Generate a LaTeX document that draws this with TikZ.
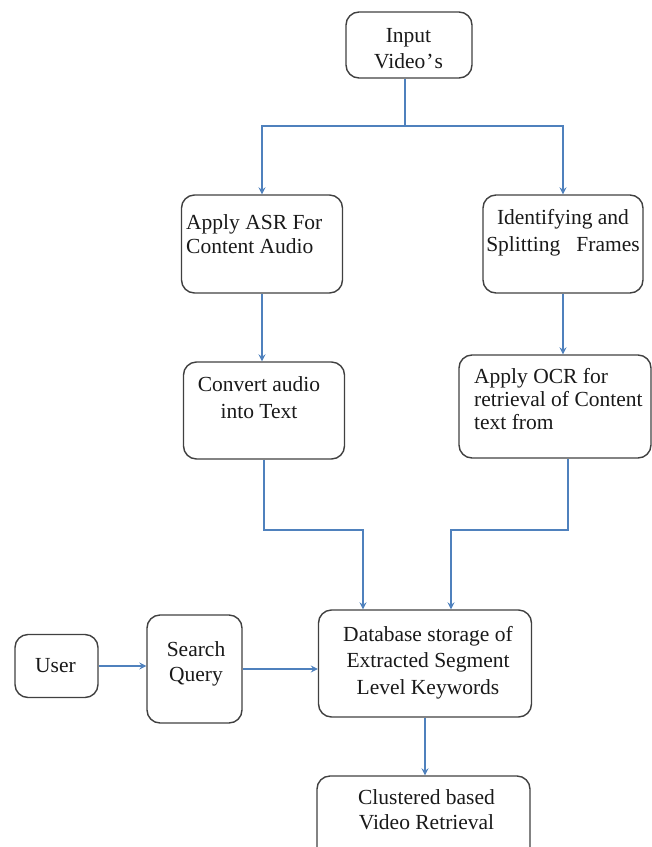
\documentclass[tikz,border=0pt]{standalone}
\usepackage{fontspec}
\setmainfont{Liberation Serif}
\usetikzlibrary{arrows.meta}
\definecolor{flowblue}{RGB}{79,129,189}
\definecolor{boxgray}{RGB}{64,64,64}

\begin{document}
\begin{tikzpicture}[x=1pt,y=-1pt,
    box/.style={draw=boxgray, line width=1.4pt, rounded corners=13pt, inner sep=0pt},
    txt/.style={font=\fontsize{21.5}{#1}\selectfont, inner sep=0pt, text=black!90},
    txt/.default=26,
    flow/.style={draw=flowblue, line width=1.5pt, -{Stealth[length=7pt,width=7pt,inset=2.5pt]}},
    link/.style={draw=flowblue, line width=1.5pt}]
    \useasboundingbox (0,0) rectangle (652,847);
    \clip (0,0) rectangle (652,847);

    % boxes
    \node[box, minimum width=126, minimum height=66] (input) at (409,45) {};
    \node[box, minimum width=161, minimum height=98] (asr) at (262,244) {};
    \node[box, minimum width=160, minimum height=98] (ident) at (563,244) {};
    \node[box, minimum width=161, minimum height=97] (conv) at (264,410.5) {};
    \node[box, minimum width=192, minimum height=103] (ocr) at (555,406.5) {};
    \node[box, minimum width=213, minimum height=107] (db) at (425,663.5) {};
    \node[box, minimum width=83, minimum height=63] (user) at (56.5,666) {};
    \node[box, minimum width=95, minimum height=108] (search) at (194.5,669) {};
    \node[box, minimum width=213, minimum height=84] (clus) at (423.5,818) {};

    % texts
    \node[txt, align=center, anchor=north] (inputtxt) at (408.5,28) {Input\\Video\kern1pt’\kern1pt s};
    \node[txt=24, align=left, anchor=north west] (asrtxt) at (186,214) {Apply ASR For\\Content Audio};
    \node[txt=27, align=center, anchor=north] (identtxt) at (563,209) {Identifying and\\Splitting\ \ \ Frames};
    \node[txt=27, align=center, anchor=north] (convtxt) at (259,376) {Convert audio\\into Text};
    \node[txt=23, align=left, anchor=north west] (ocrtxt) at (474,368) {Apply OCR for\\retrieval of Content\\text from};
    \node[txt=26.5, align=center, anchor=north] (dbtxt) at (428,626) {Database storage of\\Extracted Segment\\Level Keywords};
    \node[txt, anchor=base] (usertxt) at (55.5,672) {User};
    \node[txt=25, align=center, anchor=north] (searchtxt) at (196,641) {Search\\Query};
    \node[txt=25, align=center, anchor=north] (clustxt) at (426.5,789) {Clustered based\\Video Retrieval};

    % connectors
    \coordinate (split) at (405,126);
    \coordinate (joinL) at (363,530);
    \coordinate (joinR) at (451,530);
    \coordinate (ocrout) at (568,530);
    \draw[link] (input.south -| split) -- (split);
    \draw[flow] (split) -| (asr);
    \draw[flow] (split) -| (ident);
    \draw[flow] (asr.south) -- (asr.south |- conv.north);
    \draw[flow] (ident.south) -- (ident.south |- ocr.north);
    \draw[flow] (conv.south) |- (joinL) -- (joinL |- db.north);
    \draw[flow] (ocrout |- ocr.south) -- (ocrout) -- (joinR) -- (joinR |- db.north);
    \draw[flow] (user.east) -- (user.east -| search.west);
    \draw[flow] (search.east) -- (search.east -| db.west);
    \draw[flow] (db.south) -- (db.south |- clus.north);
\end{tikzpicture}
\end{document}
